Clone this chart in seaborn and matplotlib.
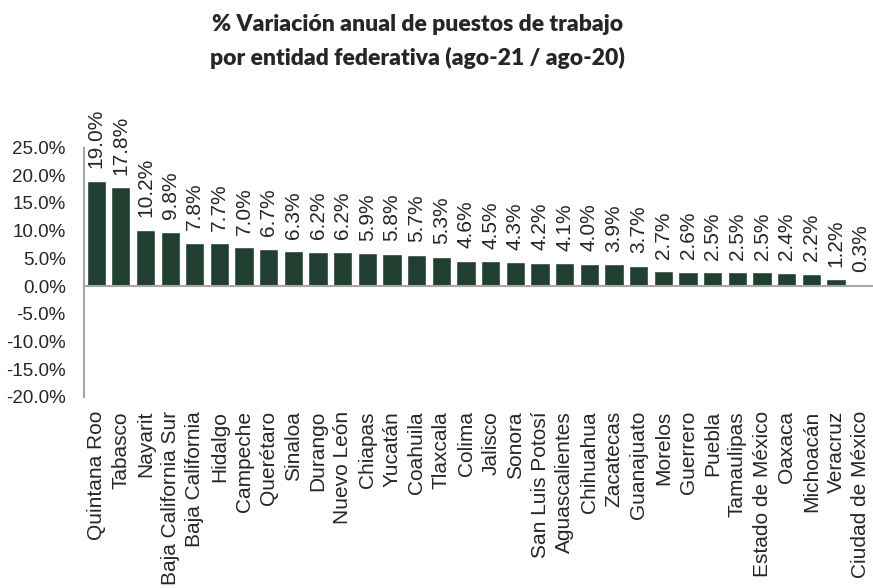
#!/usr/bin/env python3

import numpy as np
import pandas as pd
import seaborn as sns
from matplotlib import pyplot as plt

# Data
estados = ['Quintana Roo', 'Tabasco', 'Nayarit', 'Baja California Sur',
           'Baja California', 'Hidalgo', 'Campeche', 'Querétaro', 'Sinaloa',
           'Durango', 'Nuevo León', 'Chiapas', 'Yucatán', 'Coahuila',
           'Tlaxcala', 'Colima', 'Jalisco', 'Sonora', 'San Luis Potosí',
           'Aguascalientes', 'Chihuahua', 'Zacatecas', 'Guanajuato', 'Morelos',
           'Guerrero', 'Puebla', 'Tamaulipas', 'Estado de México', 'Oaxaca',
           'Michoacán', 'Veracruz', 'Ciudad de México']
variacion = [19.0, 17.8, 10.2, 9.8, 7.8, 7.7, 7.0, 6.7, 6.3, 6.2, 6.2, 5.9,
             5.8, 5.7, 5.3, 4.6, 4.5, 4.3, 4.2, 4.1, 4.0, 3.9, 3.7, 2.7, 2.6,
             2.5, 2.5, 2.5, 2.4, 2.2, 1.2, 0.3]
y_ticks = [-20, -15, -10, -5, 0, 5, 10, 15, 20, 25]

BAR_COLOR = '#213f31'
AXIS_COLOR = '#a6a6a6'


def make_chart(df):
    sns.set_style('white')
    plt.rcParams['font.family'] = ['Liberation Sans', 'DejaVu Sans']
    fig = plt.figure(figsize=(8.73, 5.88), dpi=100)
    ax = fig.add_axes([0.096, 0.325, 0.904, 0.424])

    sns.barplot(data=df, x='estado', y='variacion', color=BAR_COLOR,
                width=0.78, saturation=1, ax=ax)

    # value labels above each bar
    for i, v in enumerate(df['variacion']):
        ax.annotate(f'{v:.1f}%', (i, v), xytext=(0, 9),
                    textcoords='offset points', rotation=90,
                    ha='center', va='bottom', fontsize=15)

    ax.set_ylim(-20, 25)
    ax.set_xlim(-0.5, len(df) - 0.5)
    ax.set_yticks(y_ticks)
    ax.set_yticklabels([f'{t:.1f}%' for t in y_ticks], fontsize=13.5)
    ax.set_xlabel('')
    ax.set_ylabel('')

    # x axis drawn at zero, ticks between categories
    for s in ['top', 'right']:
        ax.spines[s].set_visible(False)
    ax.spines['bottom'].set_position(('data', 0))
    ax.spines['bottom'].set_color(AXIS_COLOR)
    ax.spines['left'].set_color(AXIS_COLOR)
    ax.spines['bottom'].set_linewidth(1.5)
    ax.spines['left'].set_linewidth(1.5)
    ax.set_xticks(np.arange(len(df)) + 0.5, minor=True)
    ax.tick_params(axis='x', which='minor', direction='out', length=5,
                   width=1.5, color=AXIS_COLOR)
    ax.tick_params(axis='x', which='major', length=0, pad=90)
    ax.set_xticklabels(df['estado'], rotation=90, fontsize=15,
                       va='top', ha='center')
    ax.tick_params(axis='y', direction='out', length=5, width=1.5,
                   color=AXIS_COLOR, pad=8)

    fig.text(0.478, 0.958, '% Variación anual de puestos de trabajo',
             ha='center', va='center', fontsize=16.5, fontweight='heavy',
             family=['Lato', 'DejaVu Sans'])
    fig.text(0.478, 0.902, 'por entidad federativa (ago-21 / ago-20)',
             ha='center', va='center', fontsize=16.5, fontweight='heavy',
             family=['Lato', 'DejaVu Sans'])
    return fig


def main():
    df = pd.DataFrame({'estado': estados, 'variacion': variacion})
    fig = make_chart(df)
    fig.savefig('out.png', dpi=100)


if __name__ == "__main__":
    main()
